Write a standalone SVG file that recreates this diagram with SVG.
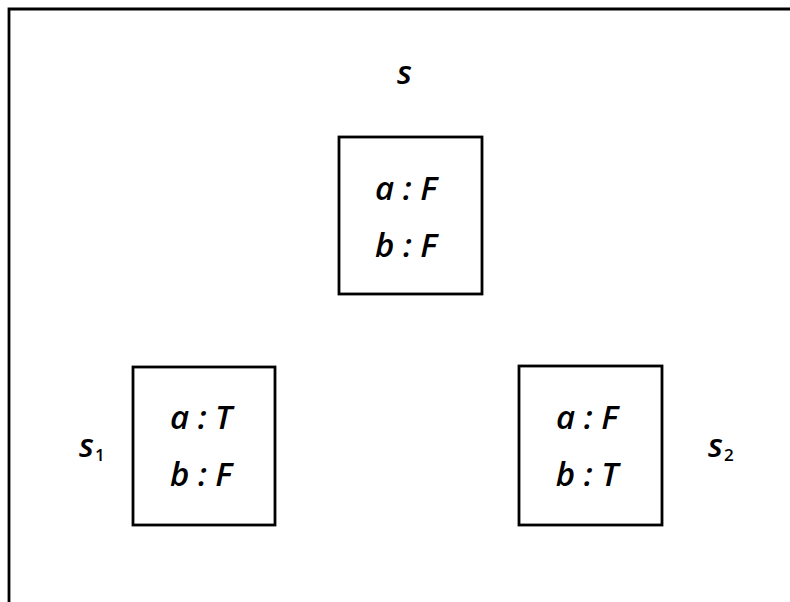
<svg xmlns="http://www.w3.org/2000/svg" width="790" height="602" viewBox="0 0 790 602">
<style>
.frame{fill:none;stroke:#000;stroke-width:2.8}
.box{fill:#fff;stroke:#000;stroke-width:2.8}
.t{font-family:"Open Sans","DejaVu Sans",sans-serif;font-style:italic;font-weight:600;font-size:33px;fill:#000;text-anchor:middle}
.lbl{font-family:"Open Sans","DejaVu Sans",sans-serif;font-style:italic;font-weight:600;font-size:33px;fill:#000}
.sub{font-family:"Open Sans","DejaVu Sans",sans-serif;font-style:normal;font-weight:600;font-size:17px;fill:#000}
</style>
<rect width="790" height="602" fill="#fff"/>
<path class="frame" d="M9,602 L9,9 L790,9"/>
<g id="connectors"></g>
<g id="node-s">
<rect class="box" x="339" y="137" width="143" height="157"/>
<text class="t" x="406" y="200">a : F</text>
<text class="t" x="406" y="257">b : F</text>
<text class="lbl" x="397" y="84">s</text>
</g>
<g id="node-s1">
<rect class="box" x="133" y="367" width="142" height="158"/>
<text class="t" x="201" y="429">a : T</text>
<text class="t" x="201" y="486">b : F</text>
<text class="lbl" x="79" y="457">s<tspan class="sub" dx="1" dy="4">1</tspan></text>
</g>
<g id="node-s2">
<rect class="box" x="519" y="366" width="143" height="159"/>
<text class="t" x="587" y="429">a : F</text>
<text class="t" x="587" y="486">b : T</text>
<text class="lbl" x="708" y="457">s<tspan class="sub" dx="1" dy="4">2</tspan></text>
</g>
</svg>
